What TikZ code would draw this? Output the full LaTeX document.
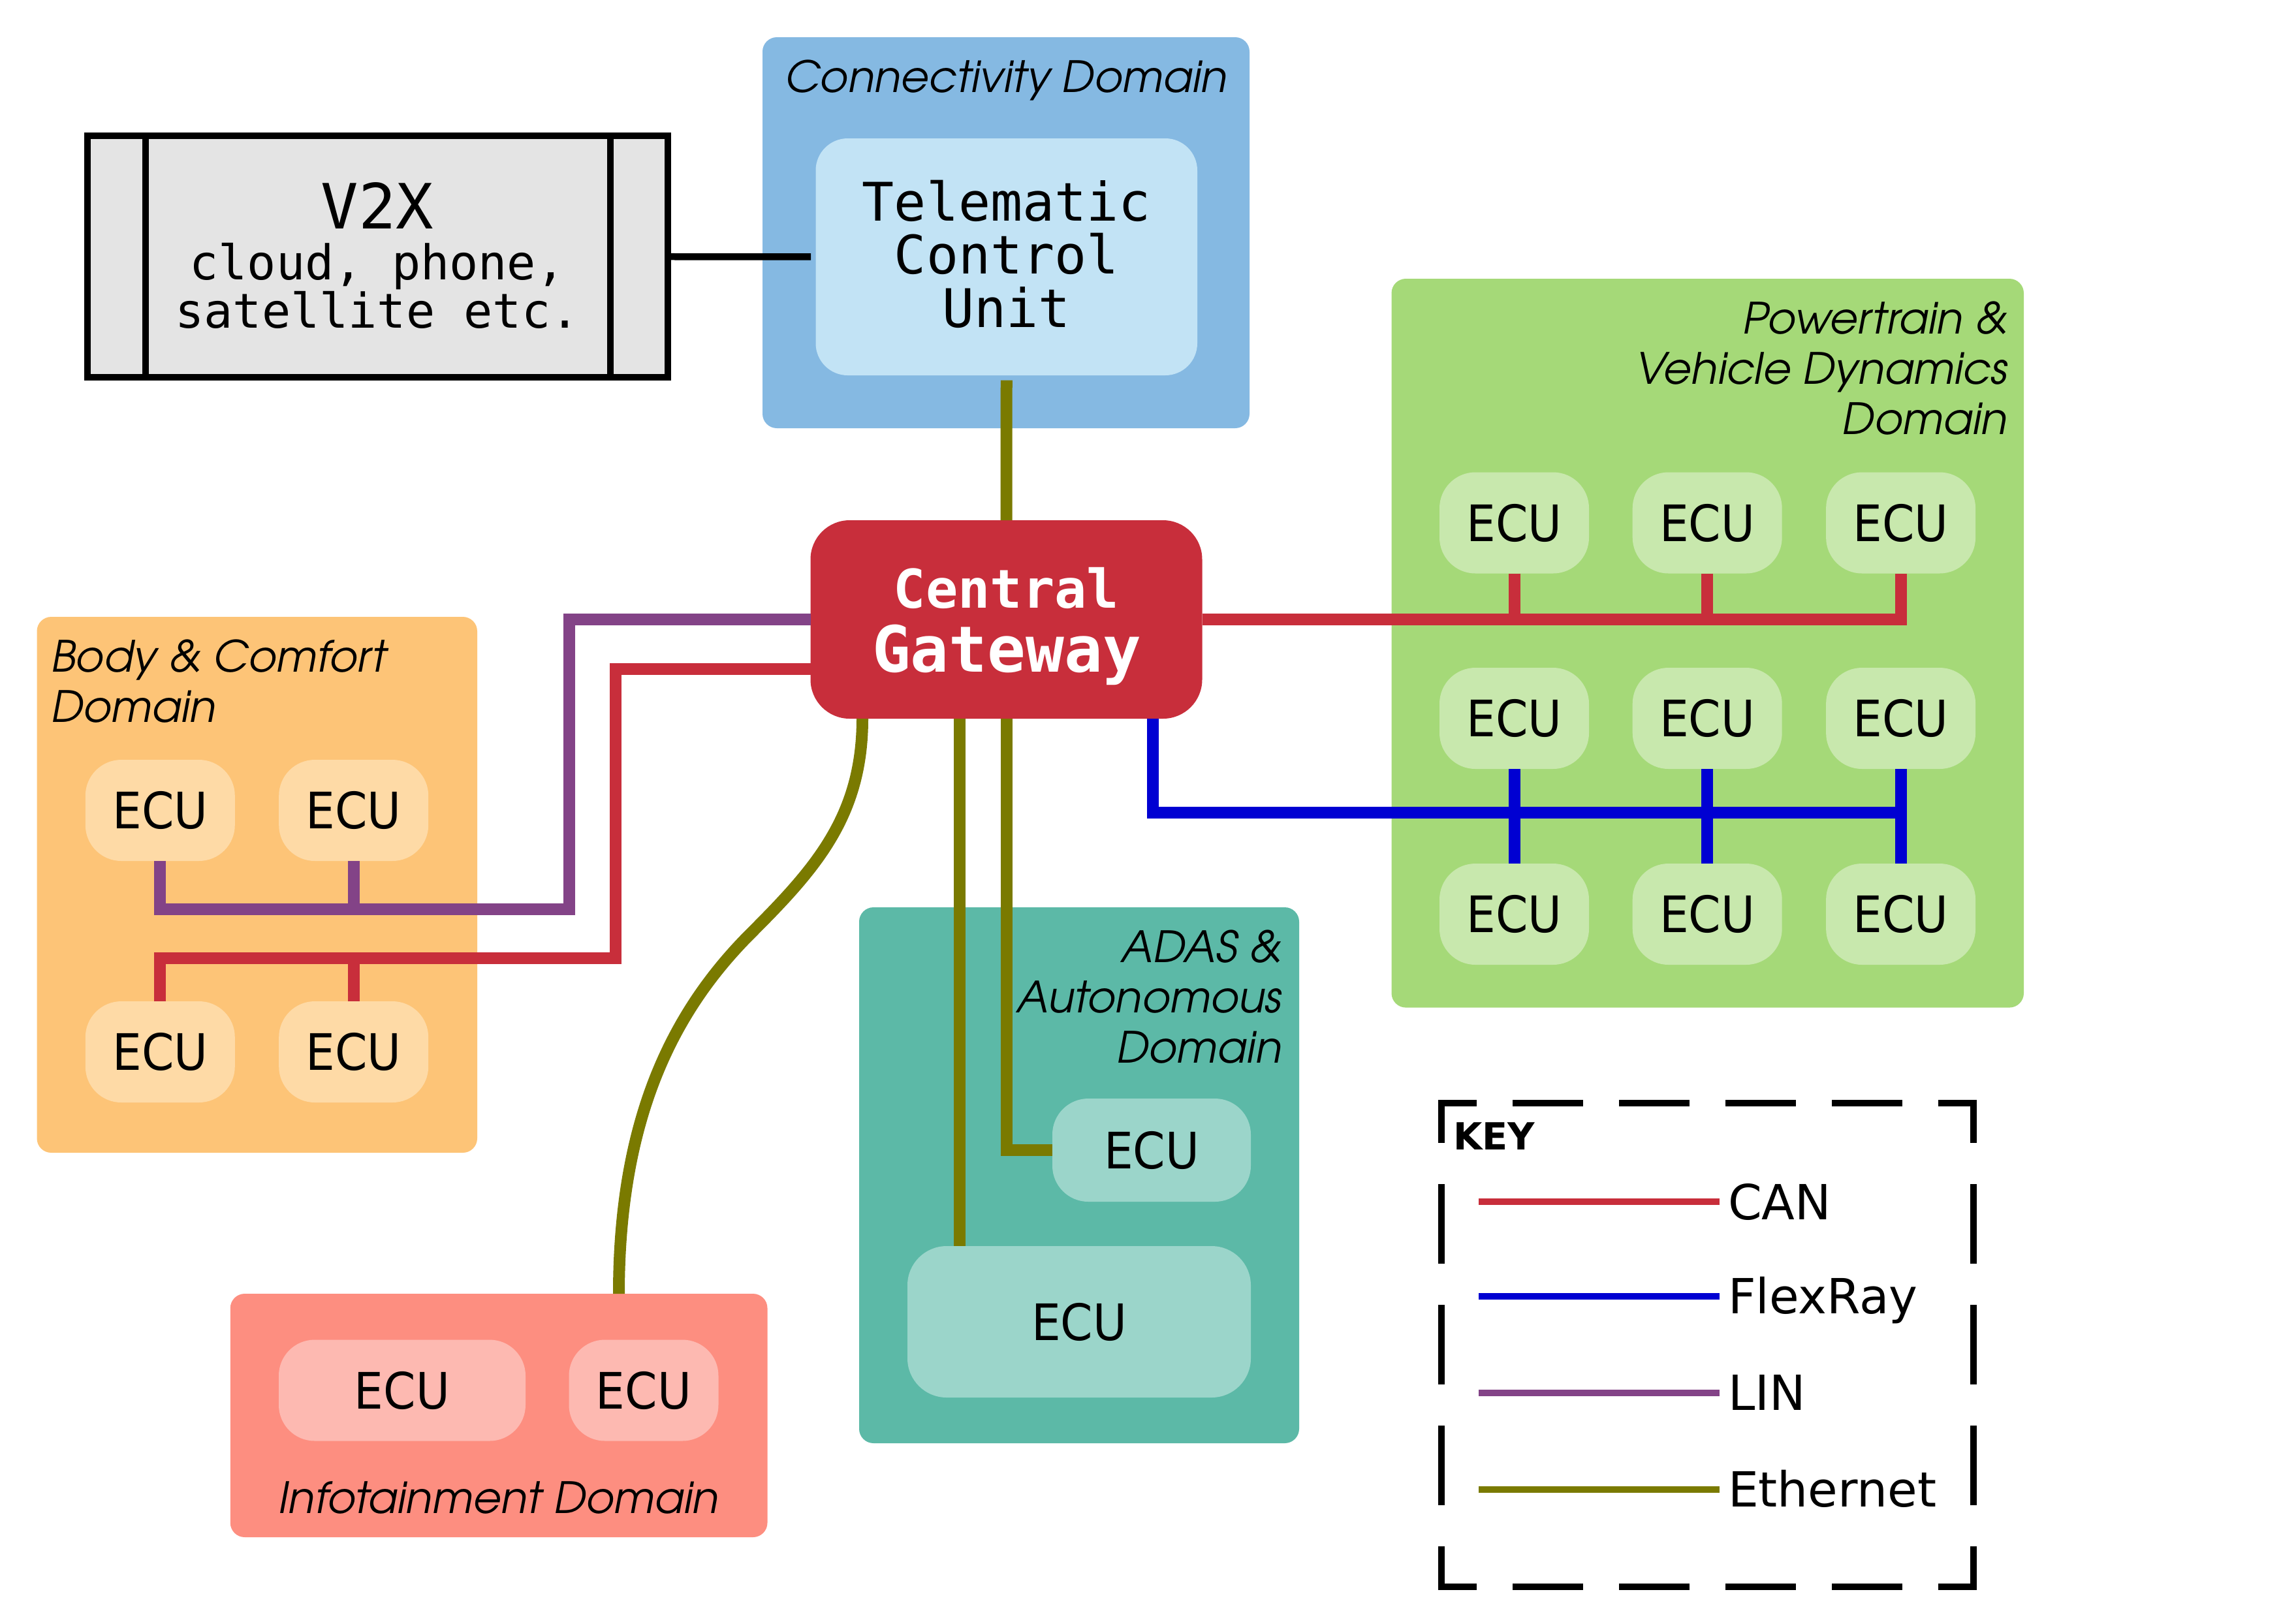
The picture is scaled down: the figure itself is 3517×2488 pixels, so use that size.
\documentclass[tikz,border=0pt]{standalone}
\usepackage{fontspec}
\setmainfont{DejaVu Sans}
\setmonofont{DejaVu Sans Mono}
\newfontfamily\domfont{texgyreadventor-italic.otf}
\newfontfamily\ecufam{DejaVu Sans}[FakeStretch=0.92]
\usetikzlibrary{calc}

% colours
\definecolor{connBg}{HTML}{85B9E2}
\definecolor{tcuFill}{HTML}{C2E3F5}
\definecolor{gwRed}{HTML}{C82E3B}
\definecolor{bodyBg}{HTML}{FDC477}
\definecolor{bodyEcu}{HTML}{FEDAA6}
\definecolor{pwtBg}{HTML}{A5D978}
\definecolor{pwtEcu}{HTML}{C8E8AD}
\definecolor{adasBg}{HTML}{5CB9A7}
\definecolor{adasEcu}{HTML}{9BD5CA}
\definecolor{infoBg}{HTML}{FD8E80}
\definecolor{infoEcu}{HTML}{FDB9B1}
\definecolor{v2xFill}{HTML}{E4E4E4}
\definecolor{canRed}{HTML}{C82E3B}
\definecolor{flexBlue}{HTML}{0000D2}
\definecolor{linPurple}{HTML}{834387}
\definecolor{ethOlive}{HTML}{7A7A00}

% font sizes
\newcommand\mydomf{\domfont\fontsize{18.8}{18.8}\selectfont}
\newcommand\myecuf{\ecufam\fontsize{21.9}{21.9}\selectfont}
\newcommand\mylegf{\fontsize{21.1}{21.1}\selectfont}
\newcommand\mykeyf{\bfseries\fontsize{16.3}{16.3}\selectfont}
\newcommand\myvbig{\ttfamily\fontsize{27.2}{27.2}\selectfont}
\newcommand\myvsmall{\ttfamily\fontsize{20.9}{20.9}\selectfont}
\newcommand\mytcuf{\ttfamily\fontsize{23.2}{23.2}\selectfont}
\newcommand\mygwa{\ttfamily\bfseries\fontsize{23.3}{23.3}\selectfont}
\newcommand\mygwb{\ttfamily\bfseries\fontsize{27.8}{27.8}\selectfont}

\tikzset{
  domain/.style={fill=#1, rounded corners=2.2mm, inner sep=0, outer sep=0},
  ecu/.style={fill=#1, rounded corners=5.5mm, inner sep=0, outer sep=0,
    minimum width=22.9mm, minimum height=15.5mm, font=\myecuf},
  title/.style={inner sep=0, outer sep=0, font=\mydomf},
  txt/.style={inner sep=0, outer sep=0},
  can/.style={line width=1.8mm, draw=canRed},
  flex/.style={line width=1.8mm, draw=flexBlue},
  lin/.style={line width=1.8mm, draw=linPurple},
  eth/.style={line width=1.8mm, draw=ethOlive},
  legline/.style={line width=1mm, draw=#1},
  keyh/.style={line width=1mm, line cap=rect,
    dash pattern=on 9.8mm off 6.5mm, dash phase=4.9mm},
  keyv/.style={line width=1mm, line cap=rect,
    dash pattern=on 11.2mm off 7.3mm, dash phase=5.6mm},
}

\begin{document}
\begin{tikzpicture}[x=0.1mm, y=-0.1mm]
\useasboundingbox (0,0) rectangle (3517,2488);

% ---------- domain backgrounds ----------
\node[domain=connBg, minimum width=74.6mm, minimum height=59.9mm] (conn) at (1541,356.5) {};
\node[domain=bodyBg, minimum width=67.45mm, minimum height=82.1mm] (body) at (393.75,1355.5) {};
\node[domain=pwtBg, minimum width=96.85mm, minimum height=111.66mm] (pwt) at (2615.75,985.3) {};
\node[domain=adasBg, minimum width=67.4mm, minimum height=82.1mm] (adas) at (1653,1800.5) {};
\node[domain=infoBg, minimum width=82.27mm, minimum height=37.3mm] (info) at (764.15,2168.5) {};

% ---------- domain titles ----------
\node[title, anchor=base] (conntitle) at (1541,141) {Connectivity Domain};
\node[title, anchor=base west] (bodytitle1) at (78,1029) {Body \& Comfort};
\node[title, anchor=base west] (bodytitle2) at (78,1106) {Domain};
\node[title, anchor=base east] (pwttitle1) at (3075,511.7) {Powertrain \&};
\node[title, anchor=base east] (pwttitle2) at (3075,588.7) {Vehicle Dynamics};
\node[title, anchor=base east] (pwttitle3) at (3075,665.7) {Domain};
\node[title, anchor=base east] (adastitle1) at (1963.5,1474.6) {ADAS \&};
\node[title, anchor=base east] (adastitle2) at (1963.5,1551.6) {Autonomous};
\node[title, anchor=base east] (adastitle3) at (1963.5,1628.6) {Domain};
\node[title, anchor=base] (infotitle) at (764,2318) {Infotainment Domain};

% ---------- V2X ----------
\node[draw, line width=1mm, fill=v2xFill, inner sep=0,
      minimum width=88.9mm, minimum height=37mm] (v2x) at (578.5,393) {};
\draw[line width=1mm] (223,208) -- (223,578);
\draw[line width=1mm] (935,208) -- (935,578);
\node[txt, anchor=base, font=\myvbig] (v2xa) at (578,350) {V2X};
\node[txt, anchor=base, font=\myvsmall] (v2xb) at (578,428) {cloud, phone,};
\node[txt, anchor=base, font=\myvsmall] (v2xc) at (578,502) {satellite etc.};

% ---------- telematic control unit ----------
\node[fill=tcuFill, rounded corners=4.9mm, inner sep=0, outer sep=0.75mm,
      minimum width=58.45mm, minimum height=36.3mm] (tcu) at (1541.75,393.5) {};
\node[txt, anchor=base, font=\mytcuf] (tcua) at (1541.75,338) {Telematic};
\node[txt, anchor=base, font=\mytcuf] (tcub) at (1541.75,419.6) {Control};
\node[txt, anchor=base, font=\mytcuf] (tcuc) at (1541.75,501.6) {Unit};

% ---------- central gateway ----------
\node[fill=gwRed, rounded corners=6mm, inner sep=0, outer sep=0,
      minimum width=60mm, minimum height=30.4mm] (gw) at (1541.5,949) {};
\node[txt, anchor=base, font=\mygwa, text=white] (gwa) at (1541.5,931) {Central};
\node[txt, anchor=base, font=\mygwb, text=white] (gwb) at (1542,1029) {Gateway};

% ---------- ECUs ----------
\node[ecu=bodyEcu] (b1) at (245.3,1241.5) {ECU};
\node[ecu=bodyEcu] (b2) at (541.7,1241.5) {ECU};
\node[ecu=bodyEcu] (b3) at (245.3,1611.5) {ECU};
\node[ecu=bodyEcu] (b4) at (541.7,1611.5) {ECU};

\node[ecu=pwtEcu] (p11) at (2319.5,801) {ECU};
\node[ecu=pwtEcu] (p12) at (2615.2,801) {ECU};
\node[ecu=pwtEcu] (p13) at (2911.6,801) {ECU};
\node[ecu=pwtEcu] (p21) at (2319.5,1100.5) {ECU};
\node[ecu=pwtEcu] (p22) at (2615.2,1100.5) {ECU};
\node[ecu=pwtEcu] (p23) at (2911.6,1100.5) {ECU};
\node[ecu=pwtEcu] (p31) at (2319.5,1400.5) {ECU};
\node[ecu=pwtEcu] (p32) at (2615.2,1400.5) {ECU};
\node[ecu=pwtEcu] (p33) at (2911.6,1400.5) {ECU};

\node[ecu=adasEcu, minimum width=30.4mm, minimum height=15.8mm] (a1) at (1764,1762) {ECU};
\node[ecu=adasEcu, minimum width=52.6mm, minimum height=23.2mm, rounded corners=6mm] (a2) at (1653,2025) {ECU};

\node[ecu=infoEcu, minimum width=37.8mm] (i1) at (616,2130) {ECU};
\node[ecu=infoEcu] (i2) at (986,2130) {ECU};

% ---------- bus corner points ----------
\coordinate (linR) at (871.5,1393);
\coordinate (linT) at (871.5,949);
\coordinate (canLR) at (942.5,1467.5);
\coordinate (canLT) at (942.5,1025);
\coordinate (frx) at (1765.5,1245);
\coordinate (ethA) at (1470,0);
\coordinate (ethC) at (1321,0);
\coordinate (ethD) at (948,0);

% ---------- connections ----------
\draw[line width=1.05mm] (v2x) -- (tcu);
\draw[eth] (tcu.south) -- (gw.north);

% LIN (body)
\draw[lin] (b1.south) |- (linR) -- (linT) -- (gw.west);
\draw[lin] (b2.south) -- (b2.south |- linR);

% CAN (body)
\draw[can] (b3.north) |- (canLR) -- (canLT) -- (canLT -| gw.west);
\draw[can] (b4.north) -- (b4.north |- canLR);

% CAN (powertrain)
\draw[can] (gw.east) -- (gw.east -| p13.south) -- (p13.south);
\draw[can] (p11.south) -- (p11.south |- gw.east);
\draw[can] (p12.south) -- (p12.south |- gw.east);

% FlexRay (vehicle dynamics)
\draw[flex] (gw.south -| frx) -- (frx) -- (frx -| p23.south);
\draw[flex] (p21.south) -- (p31.north);
\draw[flex] (p22.south) -- (p32.north);
\draw[flex] (p23.south) -- (p33.north);

% Ethernet (ADAS, infotainment)
\draw[eth] (gw.south -| ethA) -- (a2.north -| ethA);
\draw[eth] (gw.south) |- (a1.west);
\draw[eth] (gw.south -| ethC) .. controls (1321,1250) and (1250,1330) .. (1150,1430)
           .. controls (1040,1540) and (948,1700) .. (info.north -| ethD);

% ---------- key ----------
\coordinate (kNW) at (2208,1690);
\coordinate (kNE) at (3023,1690);
\coordinate (kSW) at (2208,2431);
\coordinate (kSE) at (3023,2431);
\draw[keyh] (kNW) -- (kNE);
\draw[keyh] (kSW) -- (kSE);
\draw[keyv] (kNW) -- (kSW);
\draw[keyv] (kNE) -- (kSE);
\node[txt, anchor=base west, font=\mykeyf] (keytitle) at (2226,1761) {KEY};

\coordinate (lcanA) at (2265,1841);  \coordinate (lcanB) at (2634,1841);
\coordinate (lfrA) at (2265,1986);   \coordinate (lfrB) at (2634,1986);
\coordinate (llinA) at (2265,2134);  \coordinate (llinB) at (2634,2134);
\coordinate (lethA) at (2265,2282);  \coordinate (lethB) at (2634,2282);
\draw[legline=canRed] (lcanA) -- (lcanB);
\draw[legline=flexBlue] (lfrA) -- (lfrB);
\draw[legline=linPurple] (llinA) -- (llinB);
\draw[legline=ethOlive] (lethA) -- (lethB);
\node[txt, anchor=base west, font=\mylegf] (lcan) at (2647,1868) {CAN};
\node[txt, anchor=base west, font=\mylegf] (lfr) at (2647,2012) {FlexRay};
\node[txt, anchor=base west, font=\mylegf] (llin) at (2647,2160) {LIN};
\node[txt, anchor=base west, font=\mylegf] (leth) at (2647,2308) {Ethernet};
\end{tikzpicture}
\end{document}
